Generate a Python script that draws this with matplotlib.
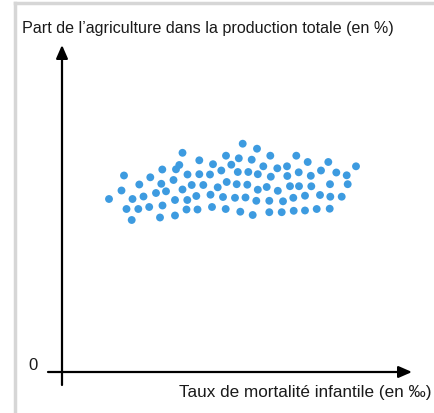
import matplotlib
matplotlib.use('Agg')
import matplotlib.pyplot as plt
import numpy as np

# scatter values (arbitrary units)
mortalite = [47, 62, 59.5, 70.5, 64.5, 76.3, 69.7, 77.3, 81.5, 88.3, 87.2, 94, 100.3, 99.3,
             104, 100.5, 98, 111.5, 114, 117.3, 120.5, 120.5, 113, 113, 125.5, 137.3, 137.3,
             148, 151, 129.7, 141.3, 125.3, 134.3, 148.5, 124.5, 135.5, 150, 164, 159.3,
             169.3, 155.7, 164.7, 161, 163.7, 180.7, 195, 208.3, 234.3, 176.8, 189.7, 201.3,
             215.3, 225, 175.8, 186.3, 195.8, 208.8, 225.3, 174.7, 185.3, 195.8, 204.7, 215.8,
             228, 237, 173, 183.5, 194.3, 207.3, 221, 231.3, 178.3, 190.7, 207.3, 219.7, 231.7,
             245.7, 266.3, 294, 236.7, 248.8, 259, 274.3, 284.7, 249.3, 268, 285.7, 243, 258,
             268.3, 279.7, 243, 254.7, 267.7]
agriculture = [173, 196.5, 181.5, 173, 163, 163, 152, 187.5, 175.5, 194.7, 165, 179, 202.5, 188.2,
               180.7, 166.5, 154.5, 192, 202.7, 207, 219.2, 182.5, 172, 156.5, 197.5, 211.7, 197.8,
               197.5, 207.8, 187, 187, 172, 176, 177.3, 162.5, 162.5, 165, 216.3, 201.5, 207.3,
               184.7, 190, 175, 163, 228.3, 223.3, 216.3, 216.3, 213.7, 212.3, 205.7, 203.7, 205.7,
               200, 200, 197.8, 195.3, 196, 187.8, 187.3, 182.3, 185, 181.2, 185.8, 185.8, 174.2,
               174.5, 171.2, 171.2, 170.7, 174.2, 160.3, 157, 159.8, 159.8, 161.2, 210, 210, 205.7,
               199.7, 196.2, 201.5, 199.5, 196.7, 185.7, 187.8, 187.8, 176.3, 177, 175.3, 175.3,
               161.5, 163, 163.3]

titre_y = "Part de l\u2019agriculture dans la production totale (en %)"
titre_x = "Taux de mortalit\u00e9 infantile (en \u2030)"

plt.rcParams['font.family'] = ['Liberation Sans', 'DejaVu Sans']

fig = plt.figure(figsize=(4.35, 4.13), dpi=100)
ax = fig.add_axes([0, 0, 1, 1])
ax.set_xlim(-62, 373)
ax.set_ylim(-41, 372)
ax.axis('off')

# gray frame on the left and top
fig.add_artist(plt.Line2D([0.034, 0.034], [0, 0.993], color='#d6d6d6', lw=2.5))
fig.add_artist(plt.Line2D([0.034, 1], [0.993, 0.993], color='#d6d6d6', lw=2.5))

ax.scatter(mortalite, agriculture, s=32, color='#3d9be0', edgecolors='none', zorder=3)

# axes with arrows
arrow = dict(arrowstyle='-|>,head_length=0.8,head_width=0.35', color='black', lw=1.6,
             shrinkA=0, shrinkB=0)
ax.annotate('', xy=(350, 0), xytext=(-14, 0), arrowprops=arrow)
ax.annotate('', xy=(0, 327), xytext=(0, -13), arrowprops=arrow)

ax.text(-40, 339, titre_y, fontsize=11.6, ha='left', va='baseline', color='#1a1a1a')
ax.text(370, -25, titre_x, fontsize=12.3, ha='right', va='baseline', color='#1a1a1a')
ax.text(-29, 7, '0', fontsize=12, ha='center', va='center', color='#1a1a1a')

plt.savefig('out.png', dpi=100)
